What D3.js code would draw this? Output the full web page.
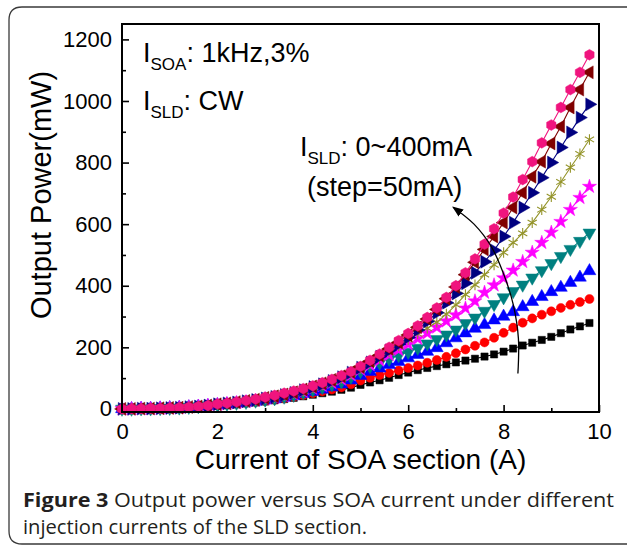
<!DOCTYPE html>
<html><head><meta charset="utf-8">
<script src="https://cdn.jsdelivr.net/npm/d3@7"></script>
<style>body{margin:0;background:#fff}svg{display:block}</style>
</head><body>
<svg id="chart" width="627" height="547"></svg>
<script>
// ---- data ----
const soaCurrent = [0,0.2,0.4,0.6,0.8,1,1.2,1.4,1.6,1.8,2,2.2,2.4,2.6,2.8,3,3.2,3.4,3.6,3.8,4,4.2,4.4,4.6,4.8,5,5.2,5.4,5.6,5.8,6,6.2,6.4,6.6,6.8,7,7.2,7.4,7.6,7.8,8,8.2,8.4,8.6,8.8,9,9.2,9.4,9.6,9.8];
const sld0 = [0,0,1,1,2,3,4,5,7,9,11,13,15,18,21,24,28,32,36,41,46,51,56,62,69,78,86,93,101,110,118,126,133,139,145,151,157,163,170,177,186,196,206,215,224,234,246,258,268,279];
const sld50 = [0,0,1,1,2,3,4,6,8,10,12,14,17,20,23,26,30,34,39,45,51,57,63,70,80,92,101,110,117,125,133,141,150,159,169,181,193,205,216,231,247,264,280,294,306,317,328,338,347,357];
const sld100 = [0,0,1,1,2,3,4,6,8,10,13,15,18,21,24,28,32,37,42,49,56,63,71,80,93,108,121,132,143,153,165,176,186,198,214,230,246,261,273,288,300,315,331,348,364,380,394,410,427,448];
const sld150 = [0,0,1,1,2,3,4,6,8,11,14,16,19,22,26,30,34,39,45,53,62,70,79,89,104,122,138,150,162,174,185,198,212,226,241,257,278,296,318,340,362,382,403,426,450,473,496,519,545,572];
const sld200 = [0,0,1,1,2,3,4,6,8,11,14,17,20,23,27,32,36,42,48,56,66,75,85,96,110,128,143,158,175,192,210,228,246,265,285,305,327,350,378,402,425,450,478,508,540,573,608,647,686,722];
const sld250 = [0,0,1,1,2,3,4,6,8,11,15,18,21,24,28,33,37,43,50,58,69,78,88,100,114,132,148,165,185,205,225,244,262,282,308,338,371,403,436,468,508,540,570,605,647,689,737,784,828,875];
const sld300 = [0,0,1,1,2,3,4,6,8,11,15,18,21,25,29,34,39,45,52,61,71,80,91,103,118,134,151,170,190,210,232,256,284,312,345,375,408,442,478,515,560,605,654,702,751,800,849,898,946,989];
const sld350 = [0,0,1,1,2,3,4,6,8,11,15,18,22,26,30,36,41,47,54,63,73,83,94,106,120,136,155,174,195,216,240,265,292,323,358,396,436,476,518,560,605,654,702,754,803,862,917,979,1037,1093];
const sld400 = [0,1,1,2,2,3,4,6,8,11,16,19,23,27,32,38,44,51,58,66,75,85,96,108,121,138,158,178,200,222,245,270,297,328,362,400,442,487,535,585,636,688,745,803,864,922,979,1037,1093,1150];
const seriesValues = [sld0, sld50, sld100, sld150, sld200, sld250, sld300, sld350, sld400];
const seriesColors = ["#000000","#ff0000","#0000ff","#008080","#ff00ff","#94942a","#000080","#800000","#f0147e"];
const seriesSymbols = ["square","circle","up","down","star","asterisk","right","left","hexagon"];
const yTicks = [0,200,400,600,800,1000,1200];
const yMinor = [100,300,500,700,900,1100];
const xTicks = [0,2,4,6,8,10];
const xMinor = [1,3,5,7,9];
const arrowPts = [[8.3,115],[8.31,230],[8.2,340],[8.02,430],[7.75,525],[7.38,600],[6.94,655]];

// ---- drawing ----
const svg = d3.select("#chart");
const L = 122, R = 599, T = 24, B = 412;
const x = d3.scaleLinear().domain([0,10]).range([L,R]);
const y = d3.scaleLinear().domain([-10,1250]).range([B,T]);
const font = "'Liberation Sans', Arial, sans-serif";

// outer rounded border
svg.append("path")
  .attr("d", `M640,7 H22 Q9,7 9,20 V531 Q9,544 22,544 H640`)
  .attr("fill","none").attr("stroke","#3a3a3a").attr("stroke-width",1.3);

// axes
const gy = svg.append("g").attr("transform",`translate(${L},0)`)
  .call(d3.axisLeft(y).tickValues(yTicks).tickSize(-7).tickPadding(10).tickFormat(d3.format("d")));
const gym = svg.append("g").attr("transform",`translate(${L},0)`)
  .call(d3.axisLeft(y).tickValues(yMinor).tickSize(-4).tickFormat(""));
const gx = svg.append("g").attr("transform",`translate(0,${B})`)
  .call(d3.axisBottom(x).tickValues(xTicks).tickSize(-7).tickPadding(11).tickFormat(d3.format("d")));
const gxm = svg.append("g").attr("transform",`translate(0,${B})`)
  .call(d3.axisBottom(x).tickValues(xMinor).tickSize(-4).tickFormat(""));
[gy,gym,gx,gxm].forEach(g=>{
  g.select(".domain").remove();
  g.selectAll("line").attr("stroke","#000").attr("stroke-width",1.6);
  g.selectAll("text").attr("font-family",font).attr("font-size",22).attr("fill","#000");
});

// series
const line = d3.line().x((d,i)=>x(soaCurrent[i])).y(d=>y(d));
const hexagon = {draw(ctx,size){const r=Math.sqrt(size/2.598);for(let k=0;k<6;k++){const a=Math.PI/3*k+Math.PI/6;const px=r*Math.cos(a),py=r*Math.sin(a);k?ctx.lineTo(px,py):ctx.moveTo(px,py);}ctx.closePath();}};
function symPath(name){
  switch(name){
    case "square": return {p:d3.symbol(d3.symbolSquare,52)(), rot:0, fill:true};
    case "circle": return {p:d3.symbol(d3.symbolCircle,64)(), rot:0, fill:true};
    case "up": return {p:d3.symbol(d3.symbolTriangle,72)(), rot:0, fill:true};
    case "down": return {p:d3.symbol(d3.symbolTriangle,72)(), rot:180, fill:true};
    case "right": return {p:d3.symbol(d3.symbolTriangle,72)(), rot:90, fill:true};
    case "left": return {p:d3.symbol(d3.symbolTriangle,72)(), rot:-90, fill:true};
    case "star": return {p:d3.symbol(d3.symbolStar,62)(), rot:0, fill:true};
    case "asterisk": return {p:d3.symbol(d3.symbolAsterisk,80)(), rot:0, fill:false};
    case "hexagon": return {p:d3.symbol(hexagon,75)(), rot:0, fill:true};
  }
}
const plot = svg.append("g");
seriesValues.forEach((vals,si)=>{
  const c = seriesColors[si];
  const g = plot.append("g");
  g.append("path").attr("d",line(vals)).attr("fill","none").attr("stroke",c).attr("stroke-width",1.1);
  const s = symPath(seriesSymbols[si]);
  g.selectAll("path.m").data(vals).join("path").attr("class","m")
    .attr("d",s.p)
    .attr("transform",(d,i)=>`translate(${x(soaCurrent[i])},${y(d)}) rotate(${s.rot})`)
    .attr("fill",s.fill?c:"none").attr("stroke",c).attr("stroke-width",s.fill?0.5:1.1);
});

// frame
svg.append("rect").attr("x",L).attr("y",T).attr("width",R-L).attr("height",B-T)
  .attr("fill","none").attr("stroke","#000").attr("stroke-width",2);

// arrow
svg.append("defs").append("marker").attr("id","ah").attr("viewBox","0 0 10 10")
  .attr("refX",9).attr("refY",5).attr("markerWidth",11).attr("markerHeight",11)
  .attr("markerUnits","userSpaceOnUse").attr("orient","auto")
  .append("path").attr("d","M0,1 L10,5 L0,9 Z").attr("fill","#000");
svg.append("path").attr("d", d3.line().curve(d3.curveCatmullRom).x(d=>x(d[0])).y(d=>y(d[1]))(arrowPts))
  .attr("fill","none").attr("stroke","#000").attr("stroke-width",1.3).attr("marker-end","url(#ah)");

// annotation texts
function subText(xp, yp, sub, rest){
  const t = svg.append("text").attr("x",xp).attr("y",yp).attr("font-family",font).attr("font-size",27).attr("fill","#000");
  t.append("tspan").text("I");
  t.append("tspan").attr("dy",8).attr("font-size",17).text(sub);
  t.append("tspan").attr("dy",-8).text(rest);
  return t;
}
subText(143, 62, "SOA", ": 1kHz,3%");
subText(143, 110, "SLD", ": CW");
subText(300, 156, "SLD", ": 0~400mA");
svg.append("text").attr("x",307).attr("y",196).attr("font-family",font).attr("font-size",27).text("(step=50mA)");

// axis titles
svg.append("text").attr("x",(L+R)/2).attr("y",469).attr("text-anchor","middle")
  .attr("font-family",font).attr("font-size",28).text("Current of SOA section (A)");
svg.append("text").attr("transform","translate(51,195) rotate(-90)").attr("text-anchor","middle")
  .attr("font-family",font).attr("font-size",29).text("Output Power(mW)");

// caption
const capFont = "'Open Sans', 'Noto Sans', sans-serif";
const c1 = svg.append("text").attr("x",23).attr("y",507).attr("font-family",capFont).attr("font-size",20)
  .attr("fill","#231f20").attr("textLength",591).attr("lengthAdjust","spacingAndGlyphs");
c1.append("tspan").attr("font-weight","bold").text("Figure 3");
c1.append("tspan").text(" Output power versus SOA current under different");
svg.append("text").attr("x",23).attr("y",534).attr("font-family",capFont).attr("font-size",20)
  .attr("fill","#231f20").attr("textLength",344).attr("lengthAdjust","spacingAndGlyphs")
  .text("injection currents of the SLD section.");
</script>
</body></html>
